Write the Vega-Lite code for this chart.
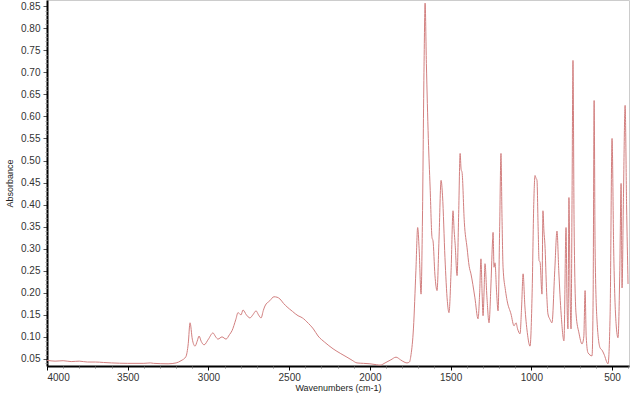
{
 "$schema": "https://vega.github.io/schema/vega-lite/v6.json",
 "width": 582, "height": 366,
 "autosize": {"type": "none"},
 "padding": {"left": 47, "top": 0, "right": 2, "bottom": 31},
 "background": "white",
 "config": {"view": {"stroke": "#cccccc", "strokeWidth": 1}, "font": "Liberation Sans"},
 "data": {"values": [
  {"w":4000,"a":0.047},{"w":3950,"a":0.045},{"w":3900,"a":0.046},{"w":3850,"a":0.044},{"w":3800,"a":0.045},{"w":3750,"a":0.043},{"w":3700,"a":0.043},{"w":3650,"a":0.042},{"w":3600,"a":0.041},{"w":3500,"a":0.040},{"w":3400,"a":0.040},{"w":3360,"a":0.041},{"w":3340,"a":0.040},{"w":3250,"a":0.039},{"w":3200,"a":0.041},{"w":3170,"a":0.046},{"w":3140,"a":0.055},{"w":3125,"a":0.085},{"w":3114,"a":0.132},{"w":3100,"a":0.095},{"w":3083,"a":0.079},{"w":3070,"a":0.09},{"w":3058,"a":0.102},{"w":3045,"a":0.09},{"w":3027,"a":0.082},{"w":3000,"a":0.095},{"w":2972,"a":0.109},{"w":2955,"a":0.100},{"w":2941,"a":0.095},{"w":2916,"a":0.100},{"w":2891,"a":0.095},{"w":2870,"a":0.105},{"w":2854,"a":0.114},{"w":2830,"a":0.14},{"w":2817,"a":0.155},{"w":2798,"a":0.150},{"w":2786,"a":0.161},{"w":2765,"a":0.150},{"w":2743,"a":0.143},{"w":2725,"a":0.150},{"w":2705,"a":0.159},{"w":2690,"a":0.150},{"w":2674,"a":0.143},{"w":2660,"a":0.160},{"w":2650,"a":0.170},{"w":2620,"a":0.182},{"w":2594,"a":0.191},{"w":2575,"a":0.190},{"w":2557,"a":0.186},{"w":2535,"a":0.176},{"w":2513,"a":0.168},{"w":2480,"a":0.158},{"w":2445,"a":0.148},{"w":2427,"a":0.145},{"w":2410,"a":0.141},{"w":2390,"a":0.134},{"w":2350,"a":0.118},{"w":2321,"a":0.102},{"w":2280,"a":0.088},{"w":2228,"a":0.073},{"w":2180,"a":0.062},{"w":2142,"a":0.054},{"w":2110,"a":0.047},{"w":2080,"a":0.041},{"w":2040,"a":0.040},{"w":2000,"a":0.039},{"w":1960,"a":0.037},{"w":1937,"a":0.036},{"w":1920,"a":0.038},{"w":1906,"a":0.041},{"w":1870,"a":0.048},{"w":1838,"a":0.054},{"w":1810,"a":0.048},{"w":1782,"a":0.042},{"w":1770,"a":0.041},{"w":1755,"a":0.043},{"w":1745,"a":0.06},{"w":1730,"a":0.12},{"w":1715,"a":0.25},{"w":1704,"a":0.348},{"w":1695,"a":0.30},{"w":1683,"a":0.197},{"w":1675,"a":0.35},{"w":1665,"a":0.7},{"w":1658,"a":0.857},{"w":1650,"a":0.72},{"w":1638,"a":0.55},{"w":1627,"a":0.44},{"w":1615,"a":0.325},{"w":1609,"a":0.318},{"w":1597,"a":0.24},{"w":1584,"a":0.205},{"w":1572,"a":0.32},{"w":1559,"a":0.455},{"w":1550,"a":0.42},{"w":1535,"a":0.28},{"w":1520,"a":0.18},{"w":1510,"a":0.155},{"w":1497,"a":0.25},{"w":1485,"a":0.386},{"w":1478,"a":0.34},{"w":1472,"a":0.311},{"w":1460,"a":0.239},{"w":1450,"a":0.38},{"w":1441,"a":0.516},{"w":1435,"a":0.48},{"w":1429,"a":0.473},{"w":1415,"a":0.36},{"w":1398,"a":0.302},{"w":1385,"a":0.26},{"w":1374,"a":0.243},{"w":1350,"a":0.19},{"w":1330,"a":0.141},{"w":1320,"a":0.2},{"w":1312,"a":0.277},{"w":1305,"a":0.2},{"w":1299,"a":0.148},{"w":1293,"a":0.2},{"w":1287,"a":0.266},{"w":1275,"a":0.19},{"w":1262,"a":0.132},{"w":1250,"a":0.22},{"w":1240,"a":0.32},{"w":1237,"a":0.337},{"w":1231,"a":0.258},{"w":1225,"a":0.268},{"w":1215,"a":0.2},{"w":1206,"a":0.159},{"w":1196,"a":0.35},{"w":1188,"a":0.516},{"w":1182,"a":0.38},{"w":1175,"a":0.257},{"w":1160,"a":0.205},{"w":1150,"a":0.182},{"w":1126,"a":0.152},{"w":1107,"a":0.125},{"w":1095,"a":0.132},{"w":1085,"a":0.118},{"w":1070,"a":0.107},{"w":1060,"a":0.17},{"w":1051,"a":0.243},{"w":1040,"a":0.17},{"w":1025,"a":0.11},{"w":1008,"a":0.079},{"w":995,"a":0.2},{"w":985,"a":0.4},{"w":977,"a":0.466},{"w":971,"a":0.46},{"w":965,"a":0.455},{"w":958,"a":0.35},{"w":952,"a":0.273},{"w":946,"a":0.27},{"w":934,"a":0.197},{"w":928,"a":0.386},{"w":922,"a":0.34},{"w":916,"a":0.311},{"w":905,"a":0.2},{"w":897,"a":0.152},{"w":885,"a":0.14},{"w":872,"a":0.132},{"w":855,"a":0.25},{"w":841,"a":0.34},{"w":830,"a":0.25},{"w":815,"a":0.15},{"w":798,"a":0.091},{"w":785,"a":0.348},{"w":779,"a":0.18},{"w":773,"a":0.118},{"w":767,"a":0.416},{"w":760,"a":0.2},{"w":754,"a":0.118},{"w":748,"a":0.4},{"w":742,"a":0.727},{"w":735,"a":0.35},{"w":723,"a":0.152},{"w":705,"a":0.109},{"w":686,"a":0.084},{"w":675,"a":0.1},{"w":667,"a":0.205},{"w":660,"a":0.1},{"w":649,"a":0.064},{"w":624,"a":0.057},{"w":617,"a":0.2},{"w":611,"a":0.636},{"w":605,"a":0.3},{"w":593,"a":0.136},{"w":574,"a":0.075},{"w":562,"a":0.07},{"w":550,"a":0.061},{"w":525,"a":0.039},{"w":512,"a":0.15},{"w":500,"a":0.55},{"w":490,"a":0.3},{"w":475,"a":0.13},{"w":463,"a":0.098},{"w":452,"a":0.25},{"w":444,"a":0.448},{"w":438,"a":0.211},{"w":430,"a":0.4},{"w":419,"a":0.625},{"w":410,"a":0.4},{"w":401,"a":0.22}
 ]},
 "layer": [
  {"mark": {"type": "line", "color": "#d27f7f", "strokeWidth": 1, "clip": true, "interpolate": "monotone"},
   "encoding": {
    "x": {"field": "w", "type": "quantitative",
     "scale": {"domain": [395, 4000], "reverse": true, "nice": false, "zero": false},
     "axis": {"orient": "bottom", "values": [4000,3500,3000,2500,2000,1500,1000,500], "format": "d", "grid": false,
      "domainColor": "#000000", "domainWidth": 2, "tickColor": "#000000", "tickSize": 4,
      "labelFontSize": 10, "labelColor": "#333333", "labelPadding": 2,
      "title": "Wavenumbers (cm-1)", "titleFontSize": 9, "titleFontWeight": "normal", "titleColor": "#222222", "titlePadding": 1}},
    "y": {"field": "a", "type": "quantitative",
     "scale": {"domain": [0.034, 0.864], "nice": false, "zero": false},
     "axis": {"orient": "left", "values": [0.05,0.1,0.15,0.2,0.25,0.3,0.35,0.4,0.45,0.5,0.55,0.6,0.65,0.7,0.75,0.8,0.85], "format": ".2f", "grid": false,
      "domainColor": "#000000", "domainWidth": 2, "tickColor": "#555555", "tickSize": 4,
      "labelFontSize": 10, "labelColor": "#333333", "labelPadding": 3,
      "title": "Absorbance", "titleFontSize": 9, "titleFontWeight": "normal", "titleColor": "#222222", "titlePadding": 6}}
   }},
  {"mark": {"type": "line", "opacity": 0},
   "encoding": {
    "x": {"field": "w", "type": "quantitative",
     "axis": {"orient": "bottom", "values": [3900,3800,3700,3600,3400,3300,3200,3100,2900,2800,2700,2600,2400,2300,2200,2100,1900,1800,1700,1600,1400,1300,1200,1100,900,800,700,600,400], "labels": false, "domain": false, "grid": false, "tickColor": "#777777", "tickSize": 2, "title": null}},
    "y": {"field": "a", "type": "quantitative",
     "axis": {"orient": "left", "values": [0.04,0.06,0.07,0.08,0.09,0.11,0.12,0.13,0.14,0.16,0.17,0.18,0.19,0.21,0.22,0.23,0.24,0.26,0.27,0.28,0.29,0.31,0.32,0.33,0.34,0.36,0.37,0.38,0.39,0.41,0.42,0.43,0.44,0.46,0.47,0.48,0.49,0.51,0.52,0.53,0.54,0.56,0.57,0.58,0.59,0.61,0.62,0.63,0.64,0.66,0.67,0.68,0.69,0.71,0.72,0.73,0.74,0.76,0.77,0.78,0.79,0.81,0.82,0.83,0.84], "labels": false, "domain": false, "grid": false, "tickColor": "#999999", "tickSize": 2, "title": null}}
   }}
 ],
 "resolve": {"axis": {"x": "independent", "y": "independent"}}
}
